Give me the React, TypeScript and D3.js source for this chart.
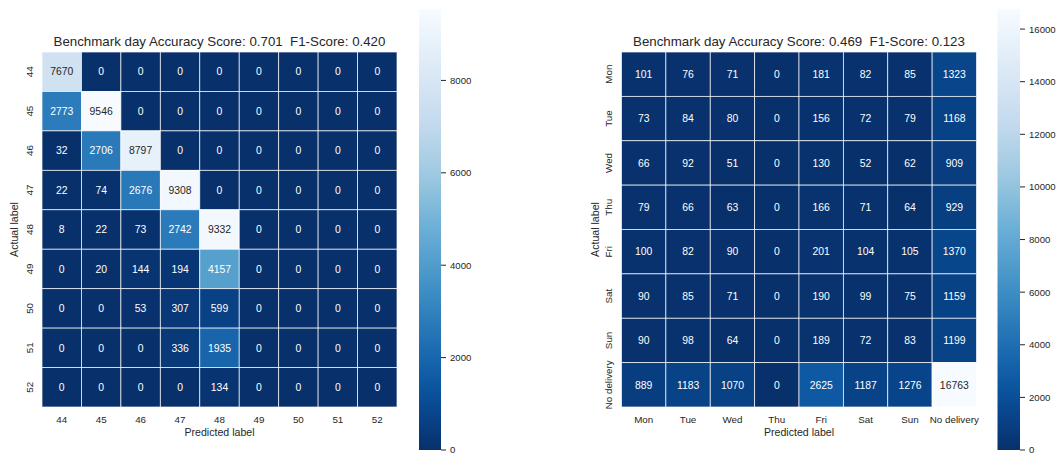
import React from "react";
import * as d3 from "d3";

// Confusion matrix: benchmark week prediction
const weekLabels = ["44", "45", "46", "47", "48", "49", "50", "51", "52"];
const weekMatrix: number[][] = [
  [7670, 0, 0, 0, 0, 0, 0, 0, 0],
  [2773, 9546, 0, 0, 0, 0, 0, 0, 0],
  [32, 2706, 8797, 0, 0, 0, 0, 0, 0],
  [22, 74, 2676, 9308, 0, 0, 0, 0, 0],
  [8, 22, 73, 2742, 9332, 0, 0, 0, 0],
  [0, 20, 144, 194, 4157, 0, 0, 0, 0],
  [0, 0, 53, 307, 599, 0, 0, 0, 0],
  [0, 0, 0, 336, 1935, 0, 0, 0, 0],
  [0, 0, 0, 0, 134, 0, 0, 0, 0],
];
const weekTitle = "Benchmark day Accuracy Score: 0.701  F1-Score: 0.420";
const weekColorbarTicks = [0, 2000, 4000, 6000, 8000];

// Confusion matrix: benchmark weekday prediction
const dayLabels = ["Mon", "Tue", "Wed", "Thu", "Fri", "Sat", "Sun", "No delivery"];
const dayMatrix: number[][] = [
  [101, 76, 71, 0, 181, 82, 85, 1323],
  [73, 84, 80, 0, 156, 72, 79, 1168],
  [66, 92, 51, 0, 130, 52, 62, 909],
  [79, 66, 63, 0, 166, 71, 64, 929],
  [100, 82, 90, 0, 201, 104, 105, 1370],
  [90, 85, 71, 0, 190, 99, 75, 1159],
  [90, 98, 64, 0, 189, 72, 83, 1199],
  [889, 1183, 1070, 0, 2625, 1187, 1276, 16763],
];
const dayTitle = "Benchmark day Accuracy Score: 0.469  F1-Score: 0.123";
const dayColorbarTicks = [0, 2000, 4000, 6000, 8000, 10000, 12000, 14000, 16000];

// ColorBrewer Blues anchors, linearly interpolated
const bluesAnchors = ["#f7fbff", "#deebf7", "#c6dbef", "#9ecae1", "#6baed6", "#4292c6", "#2171b5", "#08519c", "#08306b"];
const blues = d3
  .scaleLinear<string>()
  .domain(d3.range(bluesAnchors.length).map((i) => i / (bluesAnchors.length - 1)))
  .range(bluesAnchors)
  .interpolate(d3.interpolateRgb)
  .clamp(true);

const TEXT_DARK = "#262626";
const FONT = "'Liberation Sans', Arial, sans-serif";

function luminance(color: string): number {
  const c = d3.rgb(color);
  const lin = (v: number) => {
    const s = v / 255;
    return s <= 0.03928 ? s / 12.92 : Math.pow((s + 0.055) / 1.055, 2.4);
  };
  return 0.2126 * lin(c.r) + 0.7152 * lin(c.g) + 0.0722 * lin(c.b);
}

type HeatmapProps = {
  id: string;
  labels: string[];
  matrix: number[][];
  title: string;
  ticks: number[];
  left: number;
  top: number;
  size: number;
  yTickX: number;
  yLabelX: number;
  cbLeft: number;
  cbWidth: number;
  cbTop: number;
  cbBottom: number;
};

function Heatmap(p: HeatmapProps) {
  const max = d3.max(p.matrix.flat()) as number;
  const color = (v: number) => blues(1 - v / max);
  const x = d3.scaleBand<string>().domain(p.labels).range([p.left, p.left + p.size]);
  const y = d3.scaleBand<string>().domain(p.labels).range([p.top, p.top + p.size]);
  const cbY = d3.scaleLinear().domain([0, max]).range([p.cbBottom, p.cbTop]);
  const stops = d3.range(0, 1.0001, 0.05);
  const cx = p.left + p.size / 2;
  const cy = p.top + p.size / 2;

  return (
    <g>
      <defs>
        <linearGradient id={p.id} x1="0" y1="1" x2="0" y2="0">
          {stops.map((t) => (
            <stop key={t} offset={t} stopColor={color(t * max)} />
          ))}
        </linearGradient>
      </defs>
      <text
        x={cx}
        y={p.top - 6}
        textAnchor="middle"
        fontSize={13.3}
        fill={TEXT_DARK}
        style={{ whiteSpace: "pre" }}
      >
        {p.title}
      </text>
      {p.matrix.map((row, i) =>
        row.map((v, j) => {
          const fill = color(v);
          const bx = x(p.labels[j]) as number;
          const by = y(p.labels[i]) as number;
          return (
            <g key={`${i}-${j}`}>
              <rect
                x={bx}
                y={by}
                width={x.bandwidth()}
                height={y.bandwidth()}
                fill={fill}
                stroke="#ffffff"
                strokeOpacity={0.85}
                strokeWidth={0.8}
              />
              <text
                x={bx + x.bandwidth() / 2}
                y={by + y.bandwidth() / 2}
                dy="0.36em"
                textAnchor="middle"
                fontSize={10.4}
                fill={luminance(fill) > 0.408 ? TEXT_DARK : "#ffffff"}
              >
                {v}
              </text>
            </g>
          );
        })
      )}
      {p.labels.map((l) => (
        <text
          key={`xt-${l}`}
          x={(x(l) as number) + x.bandwidth() / 2}
          y={p.top + p.size + 16}
          textAnchor="middle"
          fontSize={9.8}
          fill={TEXT_DARK}
        >
          {l}
        </text>
      ))}
      {p.labels.map((l) => {
        const ty = (y(l) as number) + y.bandwidth() / 2;
        return (
          <text
            key={`yt-${l}`}
            transform={`translate(${p.yTickX},${ty}) rotate(-90)`}
            dy="0.36em"
            textAnchor="middle"
            fontSize={9.8}
            fill={TEXT_DARK}
          >
            {l}
          </text>
        );
      })}
      <text x={cx} y={p.top + p.size + 29} textAnchor="middle" fontSize={10.6} fill={TEXT_DARK}>
        Predicted label
      </text>
      <text
        transform={`translate(${p.yLabelX},${cy}) rotate(-90)`}
        dy="0.36em"
        textAnchor="middle"
        fontSize={10.6}
        fill={TEXT_DARK}
      >
        Actual label
      </text>
      <rect
        x={p.cbLeft}
        y={p.cbTop}
        width={p.cbWidth}
        height={p.cbBottom - p.cbTop}
        fill={`url(#${p.id})`}
      />
      {p.ticks.map((t) => (
        <g key={`cb-${t}`}>
          <line
            x1={p.cbLeft + p.cbWidth}
            x2={p.cbLeft + p.cbWidth + 5}
            y1={cbY(t)}
            y2={cbY(t)}
            stroke={TEXT_DARK}
            strokeWidth={1}
          />
          <text
            x={p.cbLeft + p.cbWidth + 9}
            y={cbY(t)}
            dy="0.36em"
            fontSize={9.6}
            fill={TEXT_DARK}
          >
            {t}
          </text>
        </g>
      ))}
    </g>
  );
}

export default function App() {
  return (
    <svg
      width={1058}
      height={455}
      style={{ position: "absolute", left: 0, top: 0, background: "#ffffff", fontFamily: FONT }}
    >
      <Heatmap
        id="cb-week"
        labels={weekLabels}
        matrix={weekMatrix}
        title={weekTitle}
        ticks={weekColorbarTicks}
        left={42}
        top={52}
        size={355}
        yTickX={29}
        yLabelX={14}
        cbLeft={419}
        cbWidth={22}
        cbTop={9}
        cbBottom={450}
      />
      <Heatmap
        id="cb-day"
        labels={dayLabels}
        matrix={dayMatrix}
        title={dayTitle}
        ticks={dayColorbarTicks}
        left={621.5}
        top={52}
        size={355}
        yTickX={608}
        yLabelX={595}
        cbLeft={997.5}
        cbWidth={22.5}
        cbTop={9}
        cbBottom={450}
      />
    </svg>
  );
}
